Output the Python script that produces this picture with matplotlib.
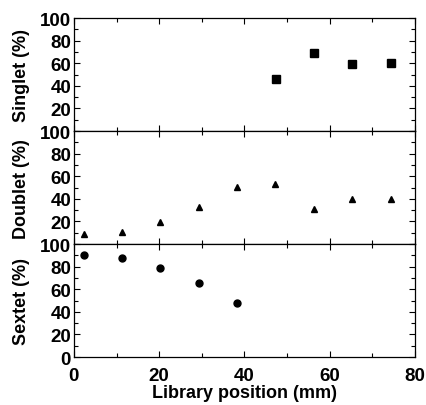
import matplotlib
matplotlib.use("Agg")
import matplotlib.pyplot as plt
from matplotlib.ticker import MultipleLocator

plt.rcParams['font.family'] = ['Liberation Sans', 'DejaVu Sans']

# data
singlet_x = [47.4, 56.3, 65.3, 74.3]
singlet_y = [46, 69, 59, 60]
doublet_x = [2.3, 11.3, 20.3, 29.3, 38.2, 47.2, 56.2, 65.3, 74.3]
doublet_y = [9, 11, 19.5, 33, 50.5, 53, 31, 40, 39.5]
sextet_x = [2.3, 11.3, 20.3, 29.3, 38.2]
sextet_y = [90, 88, 79, 66, 48]

fig, axes = plt.subplots(3, 1, figsize=(4.27, 4.06), dpi=100, sharex=True)
fig.subplots_adjust(left=0.173, right=0.972, bottom=0.118, top=0.953, hspace=0)

panels = [
    (singlet_x, singlet_y, 's', 5.5, 'Singlet (%)'),
    (doublet_x, doublet_y, '^', 5.0, 'Doublet (%)'),
    (sextet_x, sextet_y, 'o', 5.0, 'Sextet (%)'),
]

for i, (ax, (xs, ys, m, ms, lab)) in enumerate(zip(axes, panels)):
    ax.plot(xs, ys, m, color='black', ms=ms, ls='none')
    ax.set_xlim(0, 80)
    ax.set_ylim(0, 100)
    ax.set_ylabel(lab, fontsize=13, fontweight='bold', labelpad=7)
    ax.yaxis.set_major_locator(MultipleLocator(20))
    ax.yaxis.set_minor_locator(MultipleLocator(10))
    ax.xaxis.set_major_locator(MultipleLocator(20))
    ax.xaxis.set_minor_locator(MultipleLocator(10))
    ax.tick_params(which='both', direction='in', top=True, right=True,
                   labelsize=13.5, width=0.8, pad=2)
    ax.tick_params(axis='x', pad=7)
    ax.tick_params(which='major', length=4)
    ax.tick_params(which='minor', length=3)
    for s in ax.spines.values():
        s.set_linewidth(0.9)
    for t in ax.get_yticklabels() + ax.get_xticklabels():
        t.set_fontweight('bold')
    if i < 2:
        ax.set_yticks([20, 40, 60, 80, 100])

axes[2].set_xlabel('Library position (mm)', fontsize=13, fontweight='bold', labelpad=0)
fig.align_ylabels(axes)

fig.savefig('out.png', dpi=100)
